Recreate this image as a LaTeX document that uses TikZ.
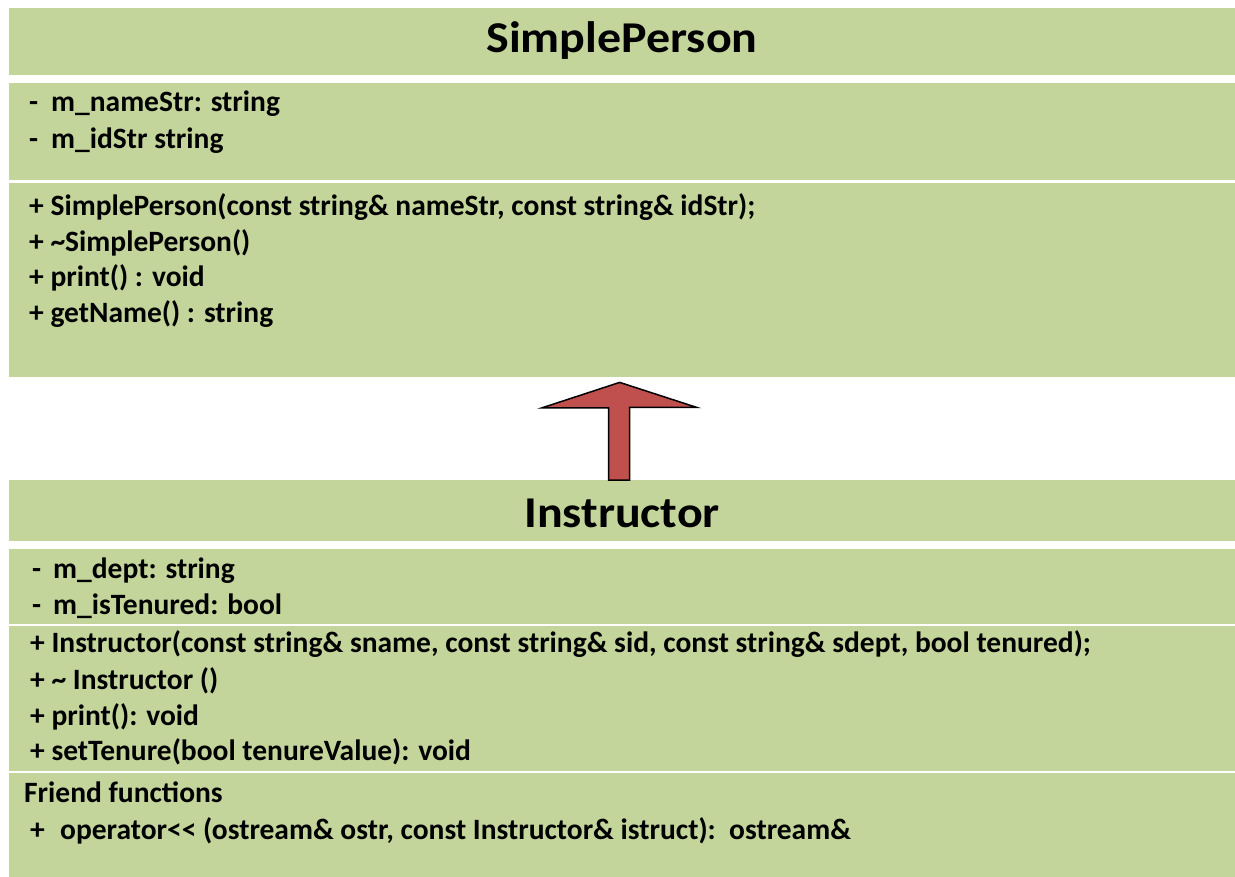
\documentclass[tikz,border=0pt]{standalone}
\usepackage{fontspec}
\setmainfont{Carlito}
\usetikzlibrary{calc}
\definecolor{umlGreen}{HTML}{C3D59B}
\definecolor{umlRed}{HTML}{C0504D}
\newcommand{\wide}[1]{\scalebox{1.09}[1]{#1}}

\begin{document}
\begin{tikzpicture}[x=1pt,y=-1pt,
    compart/.style={fill=umlGreen,anchor=north west,inner sep=0pt,minimum width=1226pt},
    member/.style={anchor=base west,inner sep=0pt,font=\fontsize{29.5}{34}\selectfont\bfseries},
    classname/.style={anchor=base,inner sep=0pt,font=\fontsize{44}{50}\selectfont\bfseries}]
    \useasboundingbox (0,0) rectangle (1235,877);
    \node[compart,minimum height=67pt] (spTitle) at (9,8) {};
    \node[compart,minimum height=97pt] (spAttr) at (9,83) {};
    \node[compart,minimum height=194pt] (spOps) at (9,183) {};
    \node[compart,minimum height=61pt] (inTitle) at (9,480) {};
    \node[compart,minimum height=75pt] (inAttr) at (9,549) {};
    \node[compart,minimum height=145pt] (inOps) at (9,626) {};
    \node[compart,minimum height=104pt] (inFriend) at (9,773) {};
    \node[classname] (spName) at (622,53) {\wide{SimplePerson}};
    \node[member] (spA1) at (29,112) {\makebox[22pt][l]{-}m\_nameStr: string};
    \node[member] (spA2) at (29,149) {\makebox[22pt][l]{-}m\_idStr string};
    \node[member] (spM1) at (29,216) {+ SimplePerson(const string\& nameStr, const string\& idStr);};
    \node[member] (spM2) at (29,252) {+ \textasciitilde SimplePerson()};
    \node[member] (spM3) at (29,287) {+ print() : void};
    \node[member] (spM4) at (29,323) {+ getName() : string};
    \node[classname] (inName) at (622,527) {\wide{Instructor}};
    \node[member] (inA1) at (32,578) {\makebox[21pt][l]{-}m\_dept: string};
    \node[member] (inA2) at (32,614) {\makebox[21pt][l]{-}m\_isTenured: bool};
    \node[member] (inM1) at (30,652) {+ Instructor(const string\& sname, const string\& sid, const string\& sdept, bool tenured);};
    \node[member] (inM2) at (30,689) {+ \textasciitilde\ Instructor ()};
    \node[member] (inM3) at (30,725) {+ print(): void};
    \node[member] (inM4) at (30,760) {+ setTenure(bool tenureValue): void};
    \node[member] (inF1) at (24,802) {Friend functions};
    \node[member] (inF2) at (30,839) {\makebox[30pt][l]{+}operator<\kern0pt< (ostream\& ostr, const Instructor\& istruct):\ \ ostream\&};
    \coordinate (arrTip) at ($(spOps.south)+(-2.5,5)$);
    \draw[fill=umlRed,line width=1.5pt,line join=miter] (arrTip) -- ++(77,25) -- ++(-67,0) -- (inTitle.north -| 629.5,0) -- (inTitle.north -| 608.5,0) -- ++(0,-72) -- ++(-67,0) -- cycle;
\end{tikzpicture}
\end{document}
